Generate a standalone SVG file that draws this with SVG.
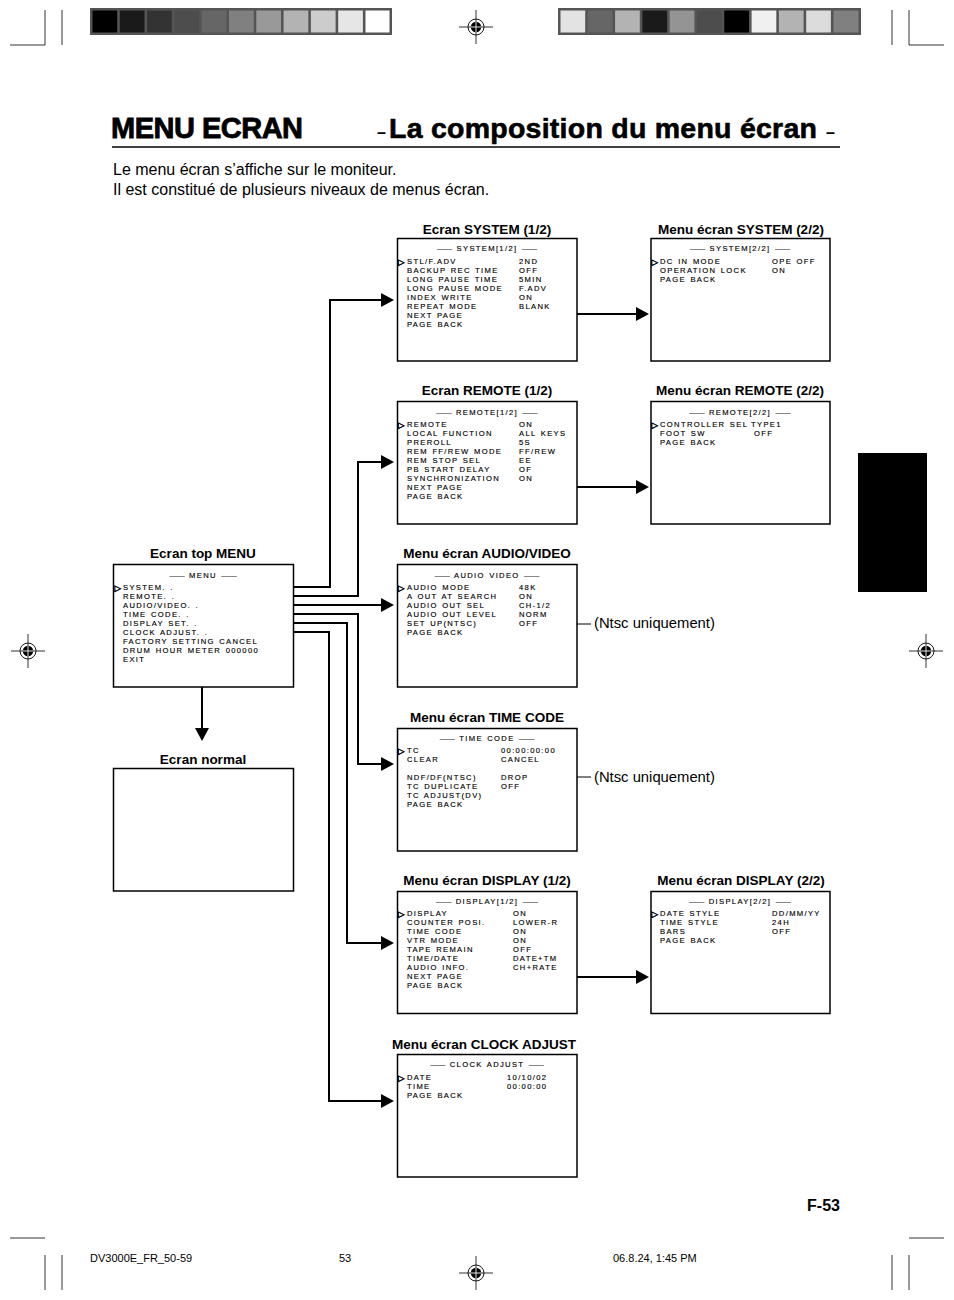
<svg xmlns="http://www.w3.org/2000/svg" width="954" height="1300" viewBox="0 0 954 1300">
<style>
.box{fill:#fff;stroke:#000;stroke-width:1.5}
.t{font-family:"Liberation Sans",Arial,sans-serif;font-size:7.6px;letter-spacing:1.35px;word-spacing:1px;fill:#000;stroke:#000;stroke-width:0.15}
.d{letter-spacing:0px}
.cur{font-family:"DejaVu Sans",sans-serif;font-size:8.5px;fill:#000;stroke:#000;stroke-width:0.5}
.lbl{font-family:"Liberation Sans",Arial,sans-serif;font-size:13.5px;font-weight:bold;text-anchor:middle;fill:#000}
.con{fill:none;stroke:#000;stroke-width:2}
.thin{fill:none;stroke:#000;stroke-width:1}
.crop{stroke:#000;stroke-width:0.8}
</style>
<defs>
<marker id="ah" markerUnits="userSpaceOnUse" markerWidth="13" markerHeight="14" refX="3" refY="7" orient="auto">
<path d="M0,0 L13,7 L0,14 z" fill="#000"/>
</marker>
<g id="reg">
<line x1="-17" y1="0" x2="17" y2="0" stroke="#000" stroke-width="0.8"/>
<line x1="0" y1="-17" x2="0" y2="17" stroke="#000" stroke-width="0.8"/>
<circle r="8" fill="none" stroke="#000" stroke-width="0.9"/>
<circle r="5.2" fill="#000"/>
<line x1="-5.2" y1="0" x2="5.2" y2="0" stroke="#fff" stroke-width="0.9"/>
<line x1="0" y1="-5.2" x2="0" y2="5.2" stroke="#fff" stroke-width="0.9"/>
</g>
</defs>
<rect width="954" height="1300" fill="#fff"/>

<!-- print marks -->
<g id="printmarks">
<rect x="90" y="8" width="302" height="27" fill="#555"/>
<rect x="92.5" y="10.5" width="24.7" height="22" fill="#000"/>
<rect x="119.8" y="10.5" width="24.7" height="22" fill="#1a1a1a"/>
<rect x="147.1" y="10.5" width="24.7" height="22" fill="#333"/>
<rect x="174.4" y="10.5" width="24.7" height="22" fill="#4d4d4d"/>
<rect x="201.7" y="10.5" width="24.7" height="22" fill="#666"/>
<rect x="229" y="10.5" width="24.7" height="22" fill="#808080"/>
<rect x="256.3" y="10.5" width="24.7" height="22" fill="#999"/>
<rect x="283.6" y="10.5" width="24.7" height="22" fill="#b3b3b3"/>
<rect x="310.9" y="10.5" width="24.7" height="22" fill="#ccc"/>
<rect x="338.2" y="10.5" width="24.7" height="22" fill="#e6e6e6"/>
<rect x="365.5" y="10.5" width="24" height="22" fill="#fff"/>
<rect x="558" y="8" width="303" height="27" fill="#555"/>
<rect x="560.5" y="10.5" width="24.7" height="22" fill="#e3e3e3"/>
<rect x="587.8" y="10.5" width="24.7" height="22" fill="#666"/>
<rect x="615.1" y="10.5" width="24.7" height="22" fill="#b3b3b3"/>
<rect x="642.4" y="10.5" width="24.7" height="22" fill="#1a1a1a"/>
<rect x="669.7" y="10.5" width="24.7" height="22" fill="#949494"/>
<rect x="697" y="10.5" width="24.7" height="22" fill="#4d4d4d"/>
<rect x="724.3" y="10.5" width="24.7" height="22" fill="#000"/>
<rect x="751.6" y="10.5" width="24.7" height="22" fill="#f0f0f0"/>
<rect x="778.9" y="10.5" width="24.7" height="22" fill="#b3b3b3"/>
<rect x="806.2" y="10.5" width="24.7" height="22" fill="#dcdcdc"/>
<rect x="833.5" y="10.5" width="25" height="22" fill="#808080"/>
<use href="#reg" x="476" y="27"/>
<use href="#reg" x="28" y="651"/>
<use href="#reg" x="926" y="651"/>
<use href="#reg" x="476" y="1273"/>
<line class="crop" x1="45" y1="10" x2="45" y2="45"/>
<line class="crop" x1="62" y1="10" x2="62" y2="45"/>
<line class="crop" x1="10" y1="45" x2="45" y2="45"/>
<line class="crop" x1="909" y1="10" x2="909" y2="45"/>
<line class="crop" x1="892" y1="10" x2="892" y2="45"/>
<line class="crop" x1="909" y1="45" x2="944" y2="45"/>
<line class="crop" x1="45" y1="1255" x2="45" y2="1290"/>
<line class="crop" x1="62" y1="1255" x2="62" y2="1290"/>
<line class="crop" x1="10" y1="1238" x2="45" y2="1238"/>
<line class="crop" x1="909" y1="1255" x2="909" y2="1290"/>
<line class="crop" x1="892" y1="1255" x2="892" y2="1290"/>
<line class="crop" x1="909" y1="1238" x2="944" y2="1238"/>
</g>

<!-- heading -->
<g id="heading">
<text x="111" y="138" font-family="'Liberation Sans',Arial,sans-serif" font-size="29" font-weight="bold" letter-spacing="-0.5" stroke="#000" stroke-width="0.8">MENU ECRAN</text>
<text x="377" y="138" font-family="'Liberation Sans',Arial,sans-serif" font-size="16" font-weight="bold">–</text>
<text x="389" y="138" font-family="'Liberation Sans',Arial,sans-serif" font-size="28.5" font-weight="bold" letter-spacing="0.25" stroke="#000" stroke-width="0.6">La composition du menu écran</text>
<text x="826" y="138" font-family="'Liberation Sans',Arial,sans-serif" font-size="16" font-weight="bold">–</text>
<line x1="112" y1="147" x2="840" y2="147" stroke="#000" stroke-width="1.5"/>
<text x="113" y="175" font-family="'Liberation Sans',Arial,sans-serif" font-size="16">Le menu écran s’affiche sur le moniteur.</text>
<text x="113" y="195" font-family="'Liberation Sans',Arial,sans-serif" font-size="16">Il est constitué de plusieurs niveaux de menus écran.</text>
</g>

<rect id="tab" x="858" y="453" width="69" height="139" fill="#000"/>

<!-- connectors -->
<g id="connectors">
<polyline class="con" points="174,587 330,587 330,300 384,300" marker-end="url(#ah)"/>
<polyline class="con" points="174,596 358,596 358,462 384,462" marker-end="url(#ah)"/>
<polyline class="con" points="192,605 384,605" marker-end="url(#ah)"/>
<polyline class="con" points="185,614 358,614 358,764 384,764" marker-end="url(#ah)"/>
<polyline class="con" points="194,623 347,623 347,943 384,943" marker-end="url(#ah)"/>
<polyline class="con" points="197,632 329,632 329,1101 384,1101" marker-end="url(#ah)"/>
<polyline class="con" points="150,659 202,659 202,731" marker-end="url(#ah)"/>
<polyline class="con" points="464,314 639,314" marker-end="url(#ah)"/>
<polyline class="con" points="464,487 639,487" marker-end="url(#ah)"/>
<polyline class="con" points="464,977 639,977" marker-end="url(#ah)"/>
<line class="thin" x1="540" y1="624" x2="591" y2="624"/>
<line class="thin" x1="528" y1="777" x2="591" y2="777"/>
</g>

<!-- Ecran SYSTEM (1/2) -->
<g id="sys1">
<text class="lbl" x="487" y="234">Ecran SYSTEM (1/2)</text>
<rect class="box" x="397.5" y="238.5" width="179.5" height="122.5"/>
<text class="t" x="487" y="251" text-anchor="middle"><tspan class="d">——</tspan> SYSTEM[1/2] <tspan class="d">——</tspan></text>
<text class="cur" x="398" y="264.5">▷</text>
<text class="t" x="407" y="264">STL/F.ADV</text><text class="t" x="519" y="264">2ND</text>
<text class="t" x="407" y="273">BACKUP REC TIME</text><text class="t" x="519" y="273">OFF</text>
<text class="t" x="407" y="282">LONG PAUSE TIME</text><text class="t" x="519" y="282">5MIN</text>
<text class="t" x="407" y="291">LONG PAUSE MODE</text><text class="t" x="519" y="291">F.ADV</text>
<text class="t" x="407" y="300">INDEX WRITE</text><text class="t" x="519" y="300">ON</text>
<text class="t" x="407" y="309">REPEAT MODE</text><text class="t" x="519" y="309">BLANK</text>
<text class="t" x="407" y="318">NEXT PAGE</text>
<text class="t" x="407" y="327">PAGE BACK</text>
</g>

<!-- Menu écran SYSTEM (2/2) -->
<g id="sys2">
<text class="lbl" x="741" y="234">Menu écran SYSTEM (2/2)</text>
<rect class="box" x="651" y="238.5" width="179" height="122.5"/>
<text class="t" x="740" y="251" text-anchor="middle"><tspan class="d">——</tspan> SYSTEM[2/2] <tspan class="d">——</tspan></text>
<text class="cur" x="651.5" y="264.5">▷</text>
<text class="t" x="660" y="264">DC IN MODE</text><text class="t" x="772" y="264">OPE OFF</text>
<text class="t" x="660" y="273">OPERATION LOCK</text><text class="t" x="772" y="273">ON</text>
<text class="t" x="660" y="282">PAGE BACK</text>
</g>

<!-- Ecran REMOTE (1/2) -->
<g id="rem1">
<text class="lbl" x="487" y="395">Ecran REMOTE (1/2)</text>
<rect class="box" x="397.5" y="401.5" width="179.5" height="122.5"/>
<text class="t" x="487" y="415" text-anchor="middle"><tspan class="d">——</tspan> REMOTE[1/2] <tspan class="d">——</tspan></text>
<text class="cur" x="398" y="427.5">▷</text>
<text class="t" x="407" y="427">REMOTE</text><text class="t" x="519" y="427">ON</text>
<text class="t" x="407" y="436">LOCAL FUNCTION</text><text class="t" x="519" y="436">ALL KEYS</text>
<text class="t" x="407" y="445">PREROLL</text><text class="t" x="519" y="445">5S</text>
<text class="t" x="407" y="454">REM FF/REW MODE</text><text class="t" x="519" y="454">FF/REW</text>
<text class="t" x="407" y="463">REM STOP SEL</text><text class="t" x="519" y="463">EE</text>
<text class="t" x="407" y="472">PB START DELAY</text><text class="t" x="519" y="472">OF</text>
<text class="t" x="407" y="481">SYNCHRONIZATION</text><text class="t" x="519" y="481">ON</text>
<text class="t" x="407" y="490">NEXT PAGE</text>
<text class="t" x="407" y="499">PAGE BACK</text>
</g>

<!-- Menu écran REMOTE (2/2) -->
<g id="rem2">
<text class="lbl" x="740" y="395">Menu écran REMOTE (2/2)</text>
<rect class="box" x="651" y="401.5" width="179" height="122.5"/>
<text class="t" x="740" y="415" text-anchor="middle"><tspan class="d">——</tspan> REMOTE[2/2] <tspan class="d">——</tspan></text>
<text class="cur" x="651.5" y="427.5">▷</text>
<text class="t" x="660" y="427">CONTROLLER SEL</text><text class="t" x="751" y="427">TYPE1</text>
<text class="t" x="660" y="436">FOOT SW</text><text class="t" x="754" y="436">OFF</text>
<text class="t" x="660" y="445">PAGE BACK</text>
</g>

<!-- Ecran top MENU -->
<g id="topmenu">
<text class="lbl" x="203" y="558">Ecran top MENU</text>
<rect class="box" x="113.5" y="564.5" width="180" height="122.5"/>
<text class="t" x="203" y="578" text-anchor="middle"><tspan class="d">——</tspan> MENU <tspan class="d">——</tspan></text>
<text class="cur" x="114.5" y="590.5">▷</text>
<text class="t" x="123" y="590">SYSTEM. .</text>
<text class="t" x="123" y="599">REMOTE. .</text>
<text class="t" x="123" y="608">AUDIO/VIDEO. .</text>
<text class="t" x="123" y="617">TIME CODE. .</text>
<text class="t" x="123" y="626">DISPLAY SET. .</text>
<text class="t" x="123" y="635">CLOCK ADJUST. .</text>
<text class="t" x="123" y="644">FACTORY SETTING CANCEL</text>
<text class="t" x="123" y="653">DRUM HOUR METER 000000</text>
<text class="t" x="123" y="662">EXIT</text>
</g>

<!-- Menu écran AUDIO/VIDEO -->
<g id="audiovideo">
<text class="lbl" x="487" y="558">Menu écran AUDIO/VIDEO</text>
<rect class="box" x="397.5" y="564.5" width="179.5" height="122.5"/>
<text class="t" x="487" y="578" text-anchor="middle"><tspan class="d">——</tspan> AUDIO VIDEO <tspan class="d">——</tspan></text>
<text class="cur" x="398" y="590.5">▷</text>
<text class="t" x="407" y="590">AUDIO MODE</text><text class="t" x="519" y="590">48K</text>
<text class="t" x="407" y="599">A OUT AT SEARCH</text><text class="t" x="519" y="599">ON</text>
<text class="t" x="407" y="608">AUDIO OUT SEL</text><text class="t" x="519" y="608">CH-1/2</text>
<text class="t" x="407" y="617">AUDIO OUT LEVEL</text><text class="t" x="519" y="617">NORM</text>
<text class="t" x="407" y="626">SET UP(NTSC)</text><text class="t" x="519" y="626">OFF</text>
<text class="t" x="407" y="635">PAGE BACK</text>
<text x="594" y="628" font-family="'Liberation Sans',Arial,sans-serif" font-size="14.8">(Ntsc uniquement)</text>
</g>

<!-- Menu écran TIME CODE -->
<g id="timecode">
<text class="lbl" x="487" y="722">Menu écran TIME CODE</text>
<rect class="box" x="397.5" y="728.5" width="179.5" height="122.5"/>
<text class="t" x="487" y="741" text-anchor="middle"><tspan class="d">——</tspan> TIME CODE <tspan class="d">——</tspan></text>
<text class="cur" x="398" y="753.5">▷</text>
<text class="t" x="407" y="753">TC</text><text class="t" x="501" y="753">00:00:00:00</text>
<text class="t" x="407" y="762">CLEAR</text><text class="t" x="501" y="762">CANCEL</text>
<text class="t" x="407" y="780">NDF/DF(NTSC)</text><text class="t" x="501" y="780">DROP</text>
<text class="t" x="407" y="789">TC DUPLICATE</text><text class="t" x="501" y="789">OFF</text>
<text class="t" x="407" y="798">TC ADJUST(DV)</text>
<text class="t" x="407" y="807">PAGE BACK</text>
<text x="594" y="782" font-family="'Liberation Sans',Arial,sans-serif" font-size="14.8">(Ntsc uniquement)</text>
</g>

<!-- Ecran normal -->
<g id="normal">
<text class="lbl" x="203" y="764">Ecran normal</text>
<rect class="box" x="113.5" y="768.5" width="180" height="122.5"/>
</g>

<!-- Menu écran DISPLAY (1/2) -->
<g id="disp1">
<text class="lbl" x="487" y="885">Menu écran DISPLAY (1/2)</text>
<rect class="box" x="397.5" y="891.5" width="179.5" height="122"/>
<text class="t" x="487" y="904" text-anchor="middle"><tspan class="d">——</tspan> DISPLAY[1/2] <tspan class="d">——</tspan></text>
<text class="cur" x="398" y="916.5">▷</text>
<text class="t" x="407" y="916">DISPLAY</text><text class="t" x="513" y="916">ON</text>
<text class="t" x="407" y="925">COUNTER POSI.</text><text class="t" x="513" y="925">LOWER-R</text>
<text class="t" x="407" y="934">TIME CODE</text><text class="t" x="513" y="934">ON</text>
<text class="t" x="407" y="943">VTR MODE</text><text class="t" x="513" y="943">ON</text>
<text class="t" x="407" y="952">TAPE REMAIN</text><text class="t" x="513" y="952">OFF</text>
<text class="t" x="407" y="961">TIME/DATE</text><text class="t" x="513" y="961">DATE+TM</text>
<text class="t" x="407" y="970">AUDIO INFO.</text><text class="t" x="513" y="970">CH+RATE</text>
<text class="t" x="407" y="979">NEXT PAGE</text>
<text class="t" x="407" y="988">PAGE BACK</text>
</g>

<!-- Menu écran DISPLAY (2/2) -->
<g id="disp2">
<text class="lbl" x="741" y="885">Menu écran DISPLAY (2/2)</text>
<rect class="box" x="651" y="891.5" width="179" height="122"/>
<text class="t" x="740" y="904" text-anchor="middle"><tspan class="d">——</tspan> DISPLAY[2/2] <tspan class="d">——</tspan></text>
<text class="cur" x="651.5" y="916.5">▷</text>
<text class="t" x="660" y="916">DATE STYLE</text><text class="t" x="772" y="916">DD/MM/YY</text>
<text class="t" x="660" y="925">TIME STYLE</text><text class="t" x="772" y="925">24H</text>
<text class="t" x="660" y="934">BARS</text><text class="t" x="772" y="934">OFF</text>
<text class="t" x="660" y="943">PAGE BACK</text>
</g>

<!-- Menu écran CLOCK ADJUST -->
<g id="clock">
<text class="lbl" x="484" y="1049">Menu écran CLOCK ADJUST</text>
<rect class="box" x="397.5" y="1054.5" width="179.5" height="122.5"/>
<text class="t" x="487" y="1067" text-anchor="middle"><tspan class="d">——</tspan> CLOCK ADJUST <tspan class="d">——</tspan></text>
<text class="cur" x="398" y="1080.5">▷</text>
<text class="t" x="407" y="1080">DATE</text><text class="t" x="507" y="1080">10/10/02</text>
<text class="t" x="407" y="1089">TIME</text><text class="t" x="507" y="1089">00:00:00</text>
<text class="t" x="407" y="1098">PAGE BACK</text>
</g>

<!-- footer -->
<g id="footer">
<text x="840" y="1211" text-anchor="end" font-family="'Liberation Sans',Arial,sans-serif" font-size="16" font-weight="bold">F-53</text>
<text x="90" y="1262" font-family="'Liberation Sans',Arial,sans-serif" font-size="11">DV3000E_FR_50-59</text>
<text x="339" y="1262" font-family="'Liberation Sans',Arial,sans-serif" font-size="11">53</text>
<text x="613" y="1262" font-family="'Liberation Sans',Arial,sans-serif" font-size="11">06.8.24, 1:45 PM</text>
</g>
</svg>
